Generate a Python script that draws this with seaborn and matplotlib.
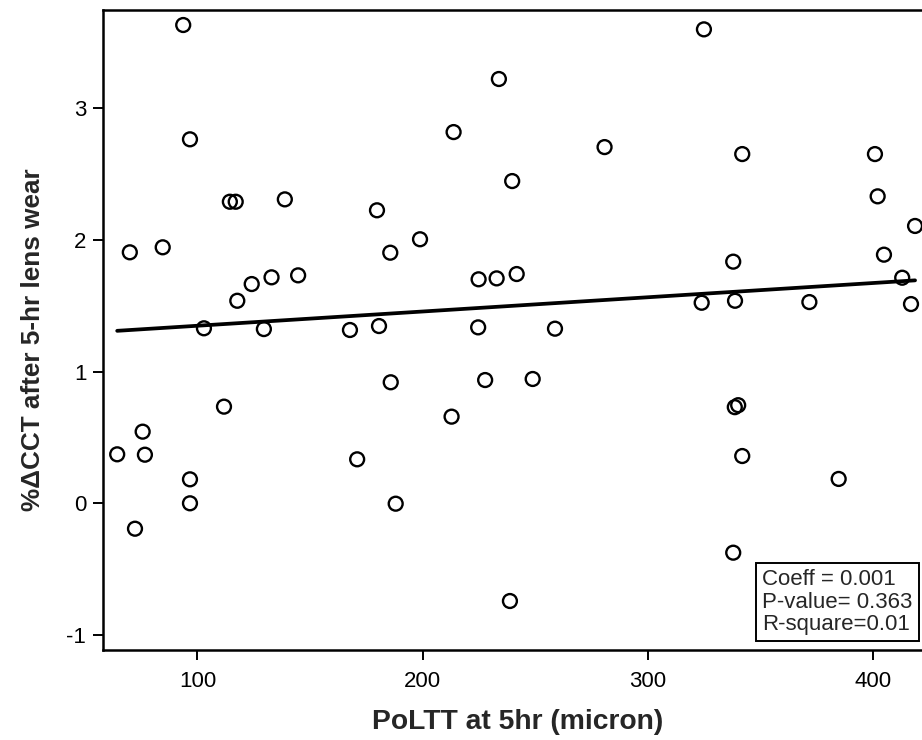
import matplotlib
matplotlib.use("Agg")
import matplotlib.pyplot as plt
import seaborn as sns
import pandas as pd
from matplotlib.ticker import FixedLocator, FixedFormatter

# Data
poltt = [93.7, 96.7, 70.0, 84.6, 114.4, 117.0, 138.8, 117.7, 124.1, 132.9,
         144.7, 102.9, 129.5,
         64.4, 75.7, 76.7, 72.3, 96.7, 96.7, 111.8,
         233.8, 213.7, 280.7, 239.7, 179.7, 198.8, 185.6, 224.8, 232.8, 241.7,
         167.7, 180.6, 224.6, 258.7,
         185.8, 227.7, 248.8, 212.8, 170.9, 188.0, 238.7,
         324.8, 341.8, 400.7, 401.9, 418.5, 337.8, 404.7, 412.8, 323.8, 338.6,
         371.6, 416.7,
         338.5, 340.0, 341.8, 384.6, 337.8]
dcct = [3.632, 2.764, 1.906, 1.944, 2.290, 2.290, 2.308, 1.538, 1.665, 1.716,
        1.731, 1.329, 1.323,
        0.372, 0.544, 0.369, -0.193, 0.182, 0.0, 0.734,
        3.222, 2.819, 2.705, 2.447, 2.225, 2.005, 1.903, 1.701, 1.708, 1.741,
        1.316, 1.346, 1.336, 1.326,
        0.919, 0.936, 0.944, 0.658, 0.334, -0.003, -0.742,
        3.599, 2.652, 2.652, 2.331, 2.106, 1.835, 1.888, 1.713, 1.523, 1.538,
        1.528, 1.513,
        0.730, 0.745, 0.359, 0.185, -0.375]

x_ticks = [100, 200, 300, 400]
y_ticks = [-1, 0, 1, 2, 3]
y_tick_labels = ["-1", "0", "1", "2", "3"]
stats_lines = ["Coeff = 0.001", "P-value= 0.363", "R-square=0.01"]

df = pd.DataFrame({"PoLTT": poltt, "dCCT": dcct})

sns.set_style("ticks")
plt.rcParams["font.family"] = ["Liberation Sans", "DejaVu Sans"]

W, H = 922, 740
fig = plt.figure(figsize=(W / 100, H / 100), dpi=100)
ax_left, ax_right, ax_top, ax_bottom = 103, 929.7, 10, 650
ax = fig.add_axes([ax_left / W, 1 - ax_bottom / H,
                   (ax_right - ax_left) / W, (ax_bottom - ax_top) / H])

sns.regplot(data=df, x="PoLTT", y="dCCT", ax=ax, ci=None, color="black",
            scatter_kws={"facecolors": "none", "edgecolors": "black",
                         "s": 100, "linewidths": 1.7, "alpha": 1, "zorder": 3},
            line_kws={"color": "black", "lw": 2.7, "zorder": 2})

ax.set_xlim(58.1, 425)
ax.set_ylim(-1.114, 3.746)

ax.xaxis.set_major_locator(FixedLocator(x_ticks))
ax.yaxis.set_major_locator(FixedLocator(y_ticks))
ax.yaxis.set_major_formatter(FixedFormatter(y_tick_labels))
ax.tick_params(axis="both", labelsize=16, length=7, width=1.4, colors="black")
ax.tick_params(axis="x", pad=8)
ax.tick_params(axis="y", pad=5)

for side in ["left", "bottom", "top", "right"]:
    ax.spines[side].set_visible(True)
    ax.spines[side].set_linewidth(1.8)
    ax.spines[side].set_color("black")

ax.set_xlabel("PoLTT at 5hr (micron)", fontsize=20.3, fontweight="bold")
ax.set_ylabel("%ΔCCT after 5-hr lens wear", fontsize=18.8, fontweight="bold")
ax.xaxis.set_label_coords((517.5 - ax_left) / (ax_right - ax_left),
                          -(722 - ax_bottom) / (ax_bottom - ax_top))
ax.yaxis.set_label_coords(-(103 - 33) / (ax_right - ax_left),
                          (ax_bottom - 340) / (ax_bottom - ax_top))
ax.xaxis.label.set_va("center")
ax.yaxis.label.set_va("center")

ax.text((762 - ax_left) / (ax_right - ax_left), 1 - (635 - ax_top) / (ax_bottom - ax_top),
        "\n".join(stats_lines), transform=ax.transAxes, fontsize=16,
        ha="left", va="bottom", linespacing=1.08,
        bbox=dict(boxstyle="square,pad=0.28", facecolor="white",
                  edgecolor="black", linewidth=1.4), zorder=5)

fig.savefig("out.png", dpi=100)
